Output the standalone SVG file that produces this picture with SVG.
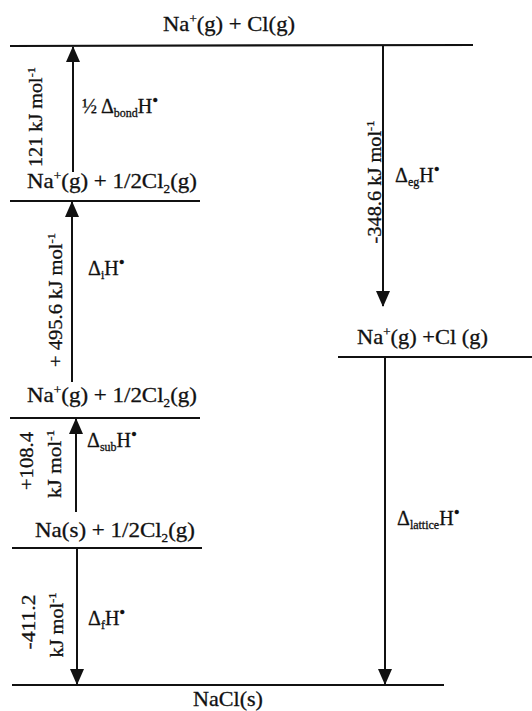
<svg xmlns="http://www.w3.org/2000/svg" width="532" height="711" viewBox="0 0 532 711">
<style>
.t{font-family:"Liberation Serif","DejaVu Serif",serif;fill:#111;font-size:21px;stroke:#111;stroke-width:0.3}
.s{font-family:"Liberation Serif","DejaVu Serif",serif;fill:#111;font-size:18px;stroke:#111;stroke-width:0.3}
.l{font-family:"Liberation Serif","DejaVu Serif",serif;fill:#111;font-size:20px;stroke:#111;stroke-width:0.3}
.lvl{stroke:#111;stroke-width:2.2;fill:none}
.arr{stroke:#111;stroke-width:2;fill:none;marker-end:url(#ah)}
</style>
<defs>
<marker id="ah" markerUnits="userSpaceOnUse" markerWidth="16" markerHeight="14" viewBox="0 0 16 14" refX="15" refY="7" orient="auto">
<path d="M0,0 L16,7 L0,14 Z" fill="#111"/>
</marker>
</defs>
<rect width="532" height="711" fill="#fff"/>

<g id="lvl-top">
<line class="lvl" x1="10" y1="46" x2="473" y2="45"/>
<text class="t" x="163" y="31" textLength="132" lengthAdjust="spacingAndGlyphs">Na<tspan dy="-8" font-size="12">+</tspan><tspan dy="8">(g) + Cl(g)</tspan></text>
</g>

<g id="lvl-na-ion-cl2-a">
<line class="lvl" x1="10" y1="201" x2="200" y2="201"/>
<text class="t" x="27" y="188" textLength="170" lengthAdjust="spacingAndGlyphs">Na<tspan dy="-8" font-size="12">+</tspan><tspan dy="8">(g) + 1/2Cl</tspan><tspan dy="5" font-size="12">2</tspan><tspan dy="-5">(g)</tspan></text>
</g>

<g id="lvl-na-ion-cl2-b">
<line class="lvl" x1="10" y1="418" x2="200" y2="418"/>
<text class="t" x="27" y="402" textLength="170" lengthAdjust="spacingAndGlyphs">Na<tspan dy="-8" font-size="12">+</tspan><tspan dy="8">(g) + 1/2Cl</tspan><tspan dy="5" font-size="12">2</tspan><tspan dy="-5">(g)</tspan></text>
</g>

<g id="lvl-na-s">
<line class="lvl" x1="12" y1="548" x2="202" y2="548"/>
<text class="t" x="35" y="537" textLength="160" lengthAdjust="spacingAndGlyphs">Na(s) + 1/2Cl<tspan dy="5" font-size="12">2</tspan><tspan dy="-5">(g)</tspan></text>
</g>

<g id="lvl-right">
<line class="lvl" x1="338" y1="357" x2="532" y2="357"/>
<text class="t" x="357" y="344" textLength="131" lengthAdjust="spacingAndGlyphs">Na<tspan dy="-8" font-size="12">+</tspan><tspan dy="8">(g) +Cl (g)</tspan></text>
</g>

<g id="lvl-nacl">
<line class="lvl" x1="12" y1="685" x2="444" y2="685"/>
<text class="t" x="193" y="706" textLength="70" lengthAdjust="spacingAndGlyphs">NaCl(s)</text>
</g>

<g id="connectors">
<line class="arr" x1="73" y1="172" x2="73" y2="47"/>
<line class="arr" x1="72" y1="382" x2="72" y2="202"/>
<line class="arr" x1="76" y1="512" x2="76" y2="419"/>
<line class="arr" x1="77" y1="549" x2="77" y2="684"/>
<line class="arr" x1="383" y1="46" x2="383" y2="306"/>
<line class="arr" x1="385" y1="358" x2="385" y2="684"/>
</g>

<g id="labels">
<text class="s" transform="translate(42,117) rotate(-90)" text-anchor="middle" textLength="100" lengthAdjust="spacingAndGlyphs">121 kJ mol<tspan dy="-7" font-size="11">-1</tspan></text>
<text class="l" x="82" y="113">½ Δ<tspan dy="4" font-size="12">bond</tspan><tspan dy="-4">H</tspan><tspan dy="-7" font-size="17">•</tspan></text>

<text class="s" transform="translate(62,300) rotate(-90)" text-anchor="middle" textLength="134" lengthAdjust="spacingAndGlyphs">+ 495.6 kJ mol<tspan dy="-7" font-size="11">-1</tspan></text>
<text class="l" x="88" y="275">Δ<tspan dy="4" font-size="12">i</tspan><tspan dy="-4">H</tspan><tspan dy="-7" font-size="17">•</tspan></text>

<text class="s" transform="translate(33,461) rotate(-90)" text-anchor="middle" textLength="58" lengthAdjust="spacingAndGlyphs">+108.4</text>
<text class="s" transform="translate(61,464) rotate(-90)" text-anchor="middle" textLength="68" lengthAdjust="spacingAndGlyphs">kJ mol<tspan dy="-7" font-size="11">-1</tspan></text>
<text class="l" x="87" y="447">Δ<tspan dy="4" font-size="12">sub</tspan><tspan dy="-4">H</tspan><tspan dy="-7" font-size="17">•</tspan></text>

<text class="s" transform="translate(35,622) rotate(-90)" text-anchor="middle" textLength="55" lengthAdjust="spacingAndGlyphs">-411.2</text>
<text class="s" transform="translate(63,625) rotate(-90)" text-anchor="middle" textLength="65" lengthAdjust="spacingAndGlyphs">kJ mol<tspan dy="-7" font-size="11">-1</tspan></text>
<text class="l" x="88" y="625">Δ<tspan dy="4" font-size="12">f</tspan><tspan dy="-4">H</tspan><tspan dy="-7" font-size="17">•</tspan></text>

<text class="s" transform="translate(381,182) rotate(-90)" text-anchor="middle" textLength="123" lengthAdjust="spacingAndGlyphs">-348.6 kJ mol<tspan dy="-7" font-size="11">-1</tspan></text>
<text class="l" x="395" y="182">Δ<tspan dy="4" font-size="12">eg</tspan><tspan dy="-4">H</tspan><tspan dy="-7" font-size="17">•</tspan></text>

<text class="l" x="397" y="525">Δ<tspan dy="4" font-size="12">lattice</tspan><tspan dy="-4">H</tspan><tspan dy="-7" font-size="17">•</tspan></text>
</g>
</svg>
